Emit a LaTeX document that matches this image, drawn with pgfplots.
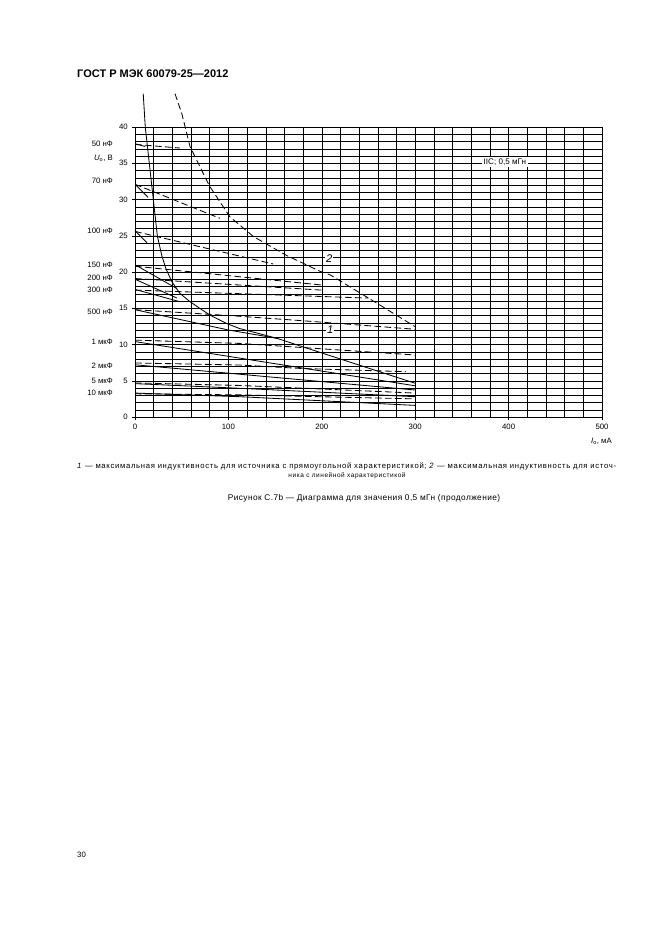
\documentclass[border=0pt]{standalone}
\usepackage{fontspec}
\setmainfont{Liberation Sans}
\usepackage{graphicx}
\usepackage{pgfplots}
\pgfplotsset{compat=1.18}
\begin{document}
\begin{tikzpicture}
\path (0,0) rectangle (594.9pt,842.4pt);
\begin{axis}[
 at={(121.5pt,467.1pt)}, anchor=south west,
 scale only axis, width=420.3pt, height=261pt,
 xmin=0,xmax=500,ymin=0,ymax=40,
 xtick={0,100,...,500}, ytick={0,5,...,40},
 minor xtick={0,20,...,500}, minor ytick={0,1,...,40},
 grid=both,
 grid style={black, line width=0.4pt},
 minor grid style={black, line width=0.4pt},
 major grid style={black, line width=0.4pt},
 tick align=outside, major tick length=3pt, minor tick length=0pt,
 tick style={black, line width=0.4pt},
 tick pos=left,
 axis line style={line width=0.5pt},
 ticklabel style={font=\fontsize{7}{8}\selectfont},
 /pgf/number format/assume math mode=true,
 clip=false,
 cycle list={{black,mark=none}},
 sol/.style={black, solid, line width=0.75pt, mark=none},
 dsh/.style={black, line width=0.75pt, mark=none, dash pattern=on 6pt off 3pt},
]
% curve 1 (solid, rectangular)
\addplot[sol] coordinates {(8.8,44.6)(11,40)(15.3,35)(19.6,30)(23.9,25)(28.6,22.3)(33,20.5)(39.3,18.7)(48,17.06)(58.9,15.9)(80,14.07)(98,12.9)(112,12.2)(127,11.7)(152,10.85)(184,9.5)(300,4.65)};
% curve 2 (dashed, linear)
\addplot[dsh] coordinates {(42.8,44.6)(50,41.9)(58.9,37.3)(80,31.8)(101.7,27.6)(126.7,24.9)(162,22.3)(198,20.1)(209,19.6)(250,16.4)(300,12.45)};
% 50 nF
\addplot[dsh] coordinates {(0,37.6)(48,37.1)};
\addplot[sol] coordinates {(0,37.7)(11,37.3)};
% 70 nF
\addplot[dsh] coordinates {(0,32.1)(91,27.4)};
\addplot[sol] coordinates {(0,32.1)(14,30.3)};
% 100 nF
\addplot[dsh] coordinates {(0,25.6)(148,21.1)};
\addplot[sol] coordinates {(0,25.7)(13,24.0)};
% 150 nF
\addplot[dsh] coordinates {(0,20.8)(200,18.2)};
\addplot[sol] coordinates {(0,21.0)(45,17.7)};
% 200 nF
\addplot[dsh] coordinates {(0,19.1)(200,17.5)};
\addplot[sol] coordinates {(0,19.0)(45,16.4)};
% 300 nF
\addplot[dsh] coordinates {(0,17.5)(250,16.4)};
\addplot[sol] coordinates {(0,17.6)(48,15.9)};
% 500 nF
\addplot[dsh] coordinates {(0,14.8)(100,14.0)(177,13.3)(300,12.1)};
\addplot[sol] coordinates {(0,14.8)(100,12.0)(152,10.85)};
% 1 uF
\addplot[dsh] coordinates {(0,10.6)(112,10.15)(300,8.55)};
\addplot[sol] coordinates {(0,10.4)(300,4.3)};
% 2 uF
\addplot[dsh] coordinates {(0,7.45)(112,7.17)(177,6.7)(290,6.25)};
\addplot[sol] coordinates {(0,7.2)(300,3.72)};
% 5 uF
\addplot[dsh] coordinates {(0,4.7)(112,4.35)(300,3.3)};
\addplot[sol] coordinates {(0,4.6)(112,3.96)(300,2.8)};
% 10 uF
\addplot[dsh] coordinates {(0,3.2)(112,3.05)(300,2.5)};
\addplot[sol] coordinates {(0,3.3)(112,2.8)(300,1.6)};
\node[fill=white, inner sep=1pt, font=\fontsize{10}{12}\selectfont\itshape] at (axis cs:208,21.9) {2};
\node[fill=white, inner sep=1pt, font=\fontsize{10}{12}\selectfont\itshape] at (axis cs:209,12.0) {1};
\node[fill=white, inner sep=1.5pt, font=\fontsize{7.3}{8}\selectfont] at (axis cs:396,35.2) {IIC; 0,5 мГн};
\end{axis}
\begin{scope}[x=0.9pt,y=-0.9pt,yshift=842.4pt]
\node[anchor=west, font=\fontsize{9.9}{11}\selectfont\bfseries, inner sep=0pt] at (77,74) {ГОСТ Р МЭК 60079-25—2012};
\begin{scope}[every node/.style={anchor=east, inner sep=0pt, font=\fontsize{7}{8}\selectfont}]
\node at (113,144) {50 нФ};
\node at (113,158) {{\itshape U}\textsubscript{o}, В};
\node at (113,181) {70 нФ};
\node at (113,231) {100 нФ};
\node at (113,265) {150 нФ};
\node at (113,278) {200 нФ};
\node at (113,290) {300 нФ};
\node at (113,312) {500 нФ};
\node at (113,342) {1 мкФ};
\node at (113,366) {2 мкФ};
\node at (113,381) {5 мкФ};
\node at (113,393) {10 мкФ};
\node at (612,441) {{\itshape I}\textsubscript{o}, мА};
\end{scope}
\node[anchor=west, inner sep=0pt] at (77,466) {\resizebox{485pt}{!}{\fontsize{5.8}{7}\selectfont\addfontfeature{LetterSpace=9}\textit{1} — максимальная индуктивность для источника с прямоугольной характеристикой; \textit{2} — максимальная индуктивность для источ-}};
\node[inner sep=0pt, font=\fontsize{5.8}{7}\selectfont\addfontfeature{LetterSpace=9}] at (347,476) {ника с линейной характеристикой};
\node[inner sep=0pt] at (364,498) {\resizebox{245pt}{!}{\fontsize{7}{8}\selectfont\addfontfeature{LetterSpace=5}Рисунок С.7b — Диаграмма для значения 0,5 мГн (продолжение)}};
\node[anchor=west, inner sep=0pt, font=\fontsize{7}{8}\selectfont] at (77,855) {30};
\end{scope}
\end{tikzpicture}
\end{document}
